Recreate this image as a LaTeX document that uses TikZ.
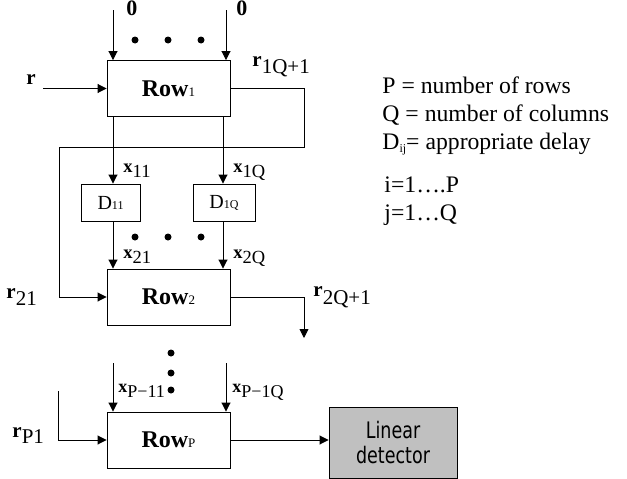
\documentclass[tikz,border=0pt]{standalone}
\usepackage{fontspec}
\setmainfont{Liberation Serif}
\newfontfamily\detfont{DejaVu Sans}
\usetikzlibrary{arrows.meta}
\definecolor{detgray}{RGB}{192,192,192}
\newcommand\fsz[1]{\fontsize{#1}{#1}\selectfont}
% signal label: bold letter raised by #2, followed by its index
\newcommand\siglab[4]{{\fsz{#1}\raisebox{#2}{\bfseries #3}#4}}
\newcommand\rowlab[1]{{\fsz{24}\bfseries Row}{\fsz{13}#1}}
\begin{document}
\begin{tikzpicture}[x=1pt,y=-1pt,line width=0.9pt,
  arr/.style={-{Triangle[length=9pt,width=9pt]}},
  blk/.style={draw,minimum width=123pt,minimum height=56pt,inner sep=0pt},
  dly/.style={draw,minimum height=37pt,inner sep=0pt,font=\fsz{20}},
  dot/.style={circle,fill,inner sep=0pt,minimum size=7pt},
  lab/.style={anchor=base west,inner sep=0pt},
  leg/.style={anchor=base west,inner sep=0pt,font=\fsz{23.7}}]
\useasboundingbox (0,0) rectangle (627,479);

% processing rows
\node[blk] (row1) at (168.5,88.5) {\rowlab{1}};
\node[blk] (row2) at (168.5,297) {\rowlab{2}};
\node[blk] (rowp) at (168.5,440) {\rowlab{P}};

% delay elements
\node[dly,minimum width=59pt] (d11) at (110.5,202.5) {D{\fsz{12}11}};
\node[dly,minimum width=62pt] (d1q) at (224,202.5) {D{\fsz{12}1Q}};

% detector
\node[draw,fill=detgray,minimum width=128pt,minimum height=71pt,inner sep=0pt,
      align=center,font=\detfont\fontsize{17.5}{25}\selectfont] (det) at (393,442.5)
      {\scalebox{1}[1.3]{Linear}\\\scalebox{1}[1.3]{detector}};

% column inputs of the first row
\coordinate (in1a) at (113,10);
\coordinate (in1b) at (226,10);
\draw[arr] (in1a) -- (in1a |- row1.north);
\draw[arr] (in1b) -- (in1b |- row1.north);

% columns through the delays
\coordinate (ca) at (113,0);
\coordinate (cb) at (223,0);
\draw[arr] (ca |- row1.south) -- (ca |- d11.north);
\draw[arr] (cb |- row1.south) -- (cb |- d1q.north);
\draw[arr] (ca |- d11.south) -- (ca |- row2.north);
\draw[arr] (cb |- d1q.south) -- (cb |- row2.north);

% column inputs of the last row
\coordinate (inPa) at (113,363);
\coordinate (inPb) at (226,363);
\draw[arr] (inPa) -- (inPa |- rowp.north);
\draw[arr] (inPb) -- (inPb |- rowp.north);

% row inputs and outputs
\coordinate (rin) at (43,88.5);
\draw[arr] (rin) -- (row1.west);
\coordinate (fbA) at (304,147);
\coordinate (fbB) at (59,147);
\draw[arr] (row1.east) -| (fbA) -- (fbB) |- (row2.west);
\coordinate (r2o) at (304,338);
\draw[arr] (row2.east) -| (r2o);
\coordinate (rpin) at (58,391);
\draw[arr] (rpin) |- (rowp.west);
\draw[arr] (rowp.east) -- (rowp.east -| det.west);

% ellipsis dots
\node[dot] (h1) at (135,40) {};
\node[dot] (h2) at (168,40) {};
\node[dot] (h3) at (201,40) {};
\node[dot] (k1) at (135,237) {};
\node[dot] (k2) at (168,237) {};
\node[dot] (k3) at (201,237) {};
\node[dot] (v1) at (171,353) {};
\node[dot] (v2) at (171,373) {};
\node[dot] (v3) at (171,390) {};

% signal labels
\node[lab] (z0a) at (126,16) {\fsz{22}\bfseries 0};
\node[lab] (z0b) at (236,16) {\fsz{22}\bfseries 0};
\node[lab] (lr) at (26,84) {\fsz{21}\bfseries r};
\node[lab] (lr1) at (252,73) {\siglab{21}{7pt}{r}{1Q+1}};
\node[lab] (lx11) at (123,177) {\siglab{18.5}{5pt}{x}{11}};
\node[lab] (lx1q) at (233,177) {\siglab{18.5}{5pt}{x}{1Q}};
\node[lab] (lx21) at (123,263) {\siglab{18.5}{5pt}{x}{21}};
\node[lab] (lx2q) at (233,263) {\siglab{18.5}{5pt}{x}{2Q}};
\node[lab] (lr21) at (6,305) {\siglab{21}{7pt}{r}{21}};
\node[lab] (lr2q) at (313,304) {\siglab{21}{8pt}{r}{2Q+1}};
\node[lab] (lxp1) at (118,397) {\siglab{18}{5pt}{x}{P−11}};
\node[lab] (lxpq) at (232,397) {\siglab{18}{5pt}{x}{P−1Q}};
\node[lab] (lrp) at (12,443) {\siglab{21}{6pt}{r}{P1}};

% legend
\node[leg] (lg1) at (382,93) {P = number of rows};
\node[leg] (lg2) at (382,121) {Q = number of columns};
\node[leg] (lg3) at (382,149) {D\raisebox{-3pt}{\fsz{12}ij}= appropriate delay};
\node[leg] (lg4) at (384,192) {i=1….P};
\node[leg] (lg5) at (384,220) {j=1…Q};
\end{tikzpicture}
\end{document}
